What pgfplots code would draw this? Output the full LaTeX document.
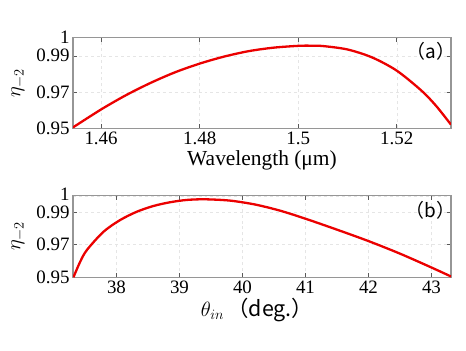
\documentclass[border=0pt]{standalone}
\usepackage{pgfplots}
\pgfplotsset{compat=1.18}
\usepackage{fontspec}
\setmainfont{Liberation Serif}
\newfontfamily\tnr{Liberation Serif}
\newfontfamily\cjk{Noto Sans CJK SC}
\definecolor{axgray}{RGB}{150,150,150}
\definecolor{curvered}{RGB}{235,0,0}
\pgfplotsset{
  myaxis/.style={
    scale only axis,
    width=378bp,
    axis line style={axgray, line width=1.1bp},
    tick style={gray!70!black, line width=0.6bp},
    major tick length=4bp,
    tick align=inside,
    xtick pos=both, ytick pos=both,
    grid=major,
    major grid style={gray!20, dashed, line width=0.4bp},
    ymin=0.95, ymax=1,
    ytick={0.95,0.97,0.99,1},
    /pgf/number format/assume math mode=true,
    tick label style={font=\tnr\fontsize{19}{21}\selectfont, black},
    yticklabel style={inner ysep=0pt},
    label style={font=\tnr\fontsize{21.5}{24}\selectfont},
    ylabel style={at={(axis description cs:-0.145,0.5)}, anchor=center, rotate=0},
  }
}
\begin{document}
\begin{tikzpicture}
\path[use as bounding box] (0,0) rectangle (466bp,351bp);
\begin{axis}[myaxis,
  at={(73bp,222.7bp)}, anchor=south west,
  height=90.6bp,
  xmin=1.4543, xmax=1.5310,
  xtick={1.46,1.48,1.5,1.52},
  xticklabels={1.46,1.48,1.5,1.52},
  yticklabels={0.95,0.97,0.99,1},
  xlabel={Wavelength (μm)},
  xlabel style={at={(axis description cs:0.5,-0.35)}, anchor=center},
  ylabel={$\eta_{-2}$},
]
\addplot[curvered, line width=2.3bp, smooth] coordinates {
(1.4543,0.9505) (1.4600,0.9604) (1.4650,0.9682) (1.4700,0.9750)
(1.4750,0.9809) (1.4800,0.9857) (1.4850,0.9896) (1.4900,0.9926)
(1.4950,0.9945) (1.5000,0.9955) (1.5025,0.9956) (1.5050,0.9954)
(1.5100,0.9935) (1.5150,0.9891) (1.5200,0.9818) (1.5250,0.9708)
(1.5280,0.9623) (1.5310,0.9520)
};
\node[font=\tnr\fontsize{19}{21}\selectfont] at (rel axis cs:0.947,0.846) {\cjk{（}a\cjk{）}};
\end{axis}
\begin{axis}[myaxis,
  at={(73bp,73.7bp)}, anchor=south west,
  height=81.6bp,
  xmin=37.31, xmax=43.31,
  xtick={38,39,40,41,42,43},
  yticklabels={0.95,0.97,0.99,\raisebox{2.5bp}{1}},
  xlabel={$\theta_{in}$\,\cjk{（}deg.\cjk{）}},
  xlabel style={at={(axis description cs:0.487,-0.40)}, anchor=center},
  ylabel={$\eta_{-2}$},
]
\addplot[curvered, line width=2.3bp, smooth] coordinates {
(37.317,0.9500) (37.420,0.9592) (37.530,0.9667) (37.794,0.9779) (38.059,0.9851)
(38.324,0.9902) (38.587,0.9937) (38.852,0.9960) (39.117,0.9974)
(39.400,0.9978) (39.800,0.9970) (40.200,0.9946) (40.600,0.9908)
(41.000,0.9859) (41.500,0.9792) (42.000,0.9722) (42.500,0.9645)
(43.000,0.9560) (43.310,0.9505)
};
\node[font=\tnr\fontsize{19}{21}\selectfont] at (rel axis cs:0.945,0.817) {\cjk{（}b\cjk{）}};
\end{axis}
\end{tikzpicture}
\end{document}
